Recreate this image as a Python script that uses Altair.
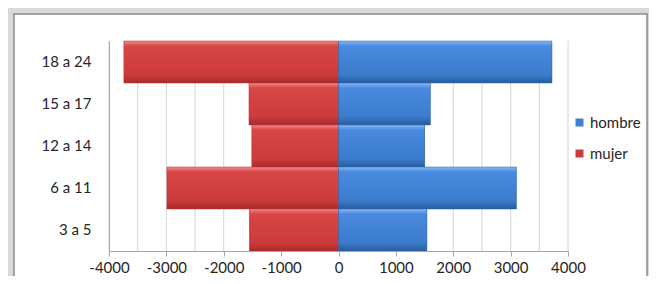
import altair as alt
import pandas as pd

categories = ["18 a 24", "15 a 17", "12 a 14", "6 a 11", "3 a 5"]
hombre = [3720, 1600, 1500, 3100, 1540]
mujer = [-3740, -1560, -1510, -2990, -1550]
series = ["hombre", "mujer"]
x_labels = [-4000, -3000, -2000, -1000, 0, 1000, 2000, 3000, 4000]
grid_values = [-4000, -3500, -3000, -2500, -2000, -1500, -1000, -500, 0,
               500, 1000, 1500, 2000, 2500, 3000, 3500, 4000]

rows = []
for c, h, m in zip(categories, hombre, mujer):
    rows.append({"grupo": c, "serie": "hombre", "valor": h})
    rows.append({"grupo": c, "serie": "mujer", "valor": m})
df = pd.DataFrame(rows)
grid_df = pd.DataFrame({"valor": grid_values})

FONT = "Lato"

y_enc = alt.Y("grupo:N", sort=categories,
              scale=alt.Scale(paddingInner=0, paddingOuter=0),
              axis=alt.Axis(title=None, ticks=False, domainColor="#a6a6a6",
                            labelFont=FONT, labelFontSize=15, labelColor="#262626",
                            labelPadding=18, zindex=1))
x_enc = alt.X("valor:Q", scale=alt.Scale(domain=[-4000, 4000], nice=False),
              axis=alt.Axis(title=None, values=x_labels, grid=False,
                            labelExpr="'' + datum.value", labelOverlap=False,
                            labelFlush=False,
                            tickSize=5, tickColor="#a6a6a6", domainColor="#a6a6a6",
                            labelFont=FONT, labelFontSize=15, labelColor="#262626",
                            labelPadding=4, zindex=1))

frame = alt.Chart(pd.DataFrame({"a": [0]})).mark_rect(
    fill="white", stroke="#8a8a8a", strokeWidth=1.5
).encode(x=alt.value(-95), x2=alt.value(538), y=alt.value(-27), y2=alt.value(260))

grid = alt.Chart(grid_df).mark_rule(color="#d4d4d4", strokeWidth=1).encode(x=x_enc)

bars = alt.Chart(df).mark_bar().encode(
    x=x_enc, y=y_enc,
    color=alt.Color("serie:N",
                    scale=alt.Scale(domain=series, range=["#3d7fd0", "#cc3b3b"]),
                    legend=alt.Legend(title=None, orient="none", legendX=463, legendY=74,
                                      symbolType="square", symbolSize=64,
                                      symbolStrokeWidth=0, labelFont=FONT,
                                      labelFontSize=15, labelColor="#262626",
                                      rowPadding=15, labelOffset=3, padding=0))
)

red_grad = alt.Gradient(gradient="linear", x1=0, x2=0, y1=0, y2=1, stops=[
    alt.GradientStop(color="#f08a8a", offset=0),
    alt.GradientStop(color="#d84646", offset=0.12),
    alt.GradientStop(color="#cc3b3b", offset=0.8),
    alt.GradientStop(color="#a82a2a", offset=1),
])
blue_grad = alt.Gradient(gradient="linear", x1=0, x2=0, y1=0, y2=1, stops=[
    alt.GradientStop(color="#86b9f2", offset=0),
    alt.GradientStop(color="#4a8ae0", offset=0.12),
    alt.GradientStop(color="#3b7ccc", offset=0.8),
    alt.GradientStop(color="#2a5a9e", offset=1),
])

red_bars = alt.Chart(df).transform_filter(alt.datum.serie == "mujer").mark_bar(
    color=red_grad, stroke="#b83030", strokeWidth=0.5
).encode(x=x_enc, y=y_enc)
blue_bars = alt.Chart(df).transform_filter(alt.datum.serie == "hombre").mark_bar(
    color=blue_grad, stroke="#2e63a8", strokeWidth=0.5
).encode(x=x_enc, y=y_enc)

chart = alt.layer(frame, grid, bars, red_bars, blue_bars).properties(
    width=459, height=210,
    autosize=alt.AutoSizeParams(type="none"),
    padding={"left": 101, "top": 33, "right": 81, "bottom": 25},
    background="#d9d9d9",
).configure_view(stroke=None)

chart.save("out.html", embed_options={"renderer": "svg", "actions": False})
